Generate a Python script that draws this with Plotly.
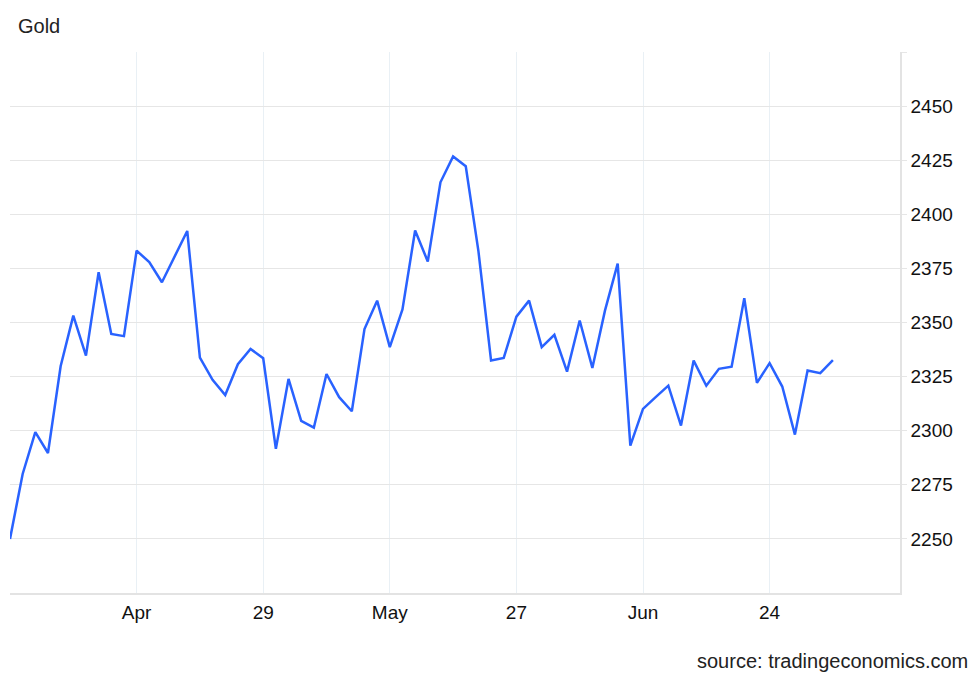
import plotly.graph_objects as go
import pandas as pd

# Trading days (weekdays) from 1 Apr 2024 to 1 Jul 2024
dates = [d.strftime("%Y-%m-%d") for d in pd.bdate_range("2024-04-01", "2024-07-01")]

gold = [
    2250.0, 2280.0, 2299.3, 2289.7, 2329.8, 2353.2, 2334.7, 2373.2, 2344.7, 2343.7,
    2383.2, 2377.9, 2368.6, 2380.4, 2392.3, 2333.8, 2323.5, 2316.5, 2330.7, 2337.8,
    2333.5, 2291.6, 2323.9, 2304.5, 2301.4, 2326.2, 2315.5, 2309.0, 2347.0, 2360.1,
    2338.6, 2356.0, 2392.5, 2378.2, 2414.8, 2426.7, 2422.2, 2383.0, 2332.4, 2333.6,
    2352.7, 2360.1, 2338.6, 2344.3, 2327.3, 2350.9, 2329.0, 2355.6, 2377.2, 2293.1,
    2310.1, 2315.5, 2320.8, 2302.4, 2332.4, 2320.8, 2328.6, 2329.6, 2361.2, 2322.1,
    2331.2, 2320.4, 2298.2, 2327.8, 2326.6, 2332.6,
]

x_tick_vals = ["2024-04-15", "2024-04-29", "2024-05-13", "2024-05-27", "2024-06-10", "2024-06-24"]
x_tick_text = ["Apr", "29", "May", "27", "Jun", "24"]

y_tick_vals = [2250, 2275, 2300, 2325, 2350, 2375, 2400, 2425, 2450, 2475]
y_tick_text = ["2250", "2275", "2300", "2325", "2350", "2375", "2400", "2425", "2450", ""]

FONT = "Helvetica, Arial, 'Liberation Sans', sans-serif"

fig = go.Figure()
fig.add_trace(go.Scatter(
    x=dates, y=gold, mode="lines",
    line=dict(color="#2962FF", width=2.5),
    hoverinfo="x+y", showlegend=False,
))

fig.update_layout(
    width=972, height=671,
    margin=dict(l=2, r=80, t=44, b=86),
    paper_bgcolor="white", plot_bgcolor="white",
    font=dict(family=FONT, size=19, color="#111111"),
    xaxis=dict(
        type="category",
        range=[0, 70.3],
        tickmode="array", tickvals=x_tick_vals, ticktext=x_tick_text,
        showgrid=True, gridcolor="#e9f0f5", gridwidth=1,
        showline=True, linecolor="#e3e3e3", linewidth=2,
        ticks="outside", ticklen=1, tickcolor="rgba(0,0,0,0)",
        tickfont=dict(size=19, color="#111111"),
        zeroline=False, fixedrange=True,
    ),
    yaxis=dict(
        side="right",
        range=[2225, 2475],
        tickmode="array", tickvals=y_tick_vals, ticktext=y_tick_text,
        showgrid=True, gridcolor="#e6e6e6", gridwidth=1,
        showline=True, linecolor="#e3e3e3", linewidth=1.5,
        ticks="outside", ticklen=5, tickcolor="#e6e6e6",
        tickfont=dict(size=19, color="#111111"),
        zeroline=False, fixedrange=True,
    ),
    annotations=[
        dict(text="Gold", xref="paper", yref="paper", x=(16 - 10) / 890, y=1 + 26 / 541,
             xanchor="left", yanchor="middle", showarrow=False,
             font=dict(size=20, color="#222222", family=FONT)),
        dict(text="source: tradingeconomics.com", xref="paper", yref="paper",
             x=(970 - 10) / 890, y=-(661 - 593) / 541,
             xanchor="right", yanchor="middle", showarrow=False,
             font=dict(size=20, color="#222222", family=FONT)),
    ],
)

fig.write_html("out.html")
